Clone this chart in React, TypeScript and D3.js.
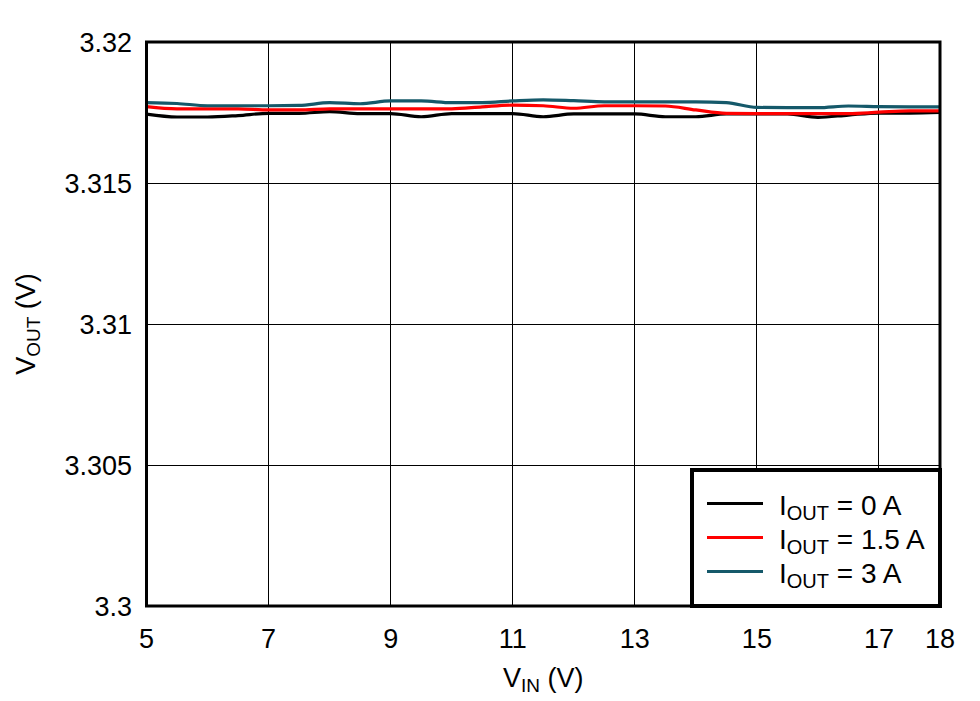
import React from "react";
import * as d3 from "d3";

const vin = [5, 5.5, 6, 6.5, 7, 7.5, 8, 8.5, 9, 9.5, 10, 10.5, 11, 11.5, 12, 12.5, 13, 13.5, 14, 14.5, 15, 15.5, 16, 16.5, 17, 17.5, 18];
const iout0 = [3.31744, 3.31734, 3.31734, 3.31739, 3.31747, 3.31747, 3.31753, 3.31746, 3.31746, 3.31735, 3.31746, 3.31746, 3.31746, 3.31735, 3.31745, 3.31745, 3.31745, 3.31735, 3.31735, 3.31745, 3.31745, 3.31745, 3.31733, 3.31741, 3.31748, 3.31748, 3.3175];
const iout15 = [3.31771, 3.31763, 3.31763, 3.31763, 3.31759, 3.31759, 3.31763, 3.31763, 3.31763, 3.31763, 3.31763, 3.3177, 3.31776, 3.31774, 3.31765, 3.31774, 3.31774, 3.31773, 3.31759, 3.31747, 3.31746, 3.31746, 3.31746, 3.31746, 3.31751, 3.31756, 3.31756];
const iout3 = [3.31785, 3.31782, 3.31774, 3.31774, 3.31774, 3.31775, 3.31785, 3.31781, 3.31791, 3.31791, 3.31785, 3.31785, 3.31791, 3.31795, 3.31792, 3.31788, 3.31788, 3.31788, 3.31788, 3.31785, 3.31768, 3.31767, 3.31767, 3.31773, 3.31771, 3.3177, 3.3177];

const xTicks = [5, 7, 9, 11, 13, 15, 17, 18];
const yTicks = [3.3, 3.305, 3.31, 3.315, 3.32];
const yTickLabels = ["3.3", "3.305", "3.31", "3.315", "3.32"];
const seriesLabels = ["= 0 A", "= 1.5 A", "= 3 A"];
const seriesColors = ["#000000", "#ff0000", "#15596a"];

const W = 980;
const H = 701;
const L = 146.5;
const R = 940;
const T = 42;
const B = 606;
const FONT = "'Liberation Sans', Arial, sans-serif";

export default function App() {
  const x = d3.scaleLinear().domain([5, 18]).range([L, R]);
  const y = d3.scaleLinear().domain([3.3, 3.32]).range([B, T]);
  const series = [iout0, iout15, iout3];
  const line = d3
    .line<number>()
    .x((_, i) => x(vin[i]))
    .y((d) => y(d))
    .curve(d3.curveMonotoneX);

  const legX = 692;
  const legY = 470;
  const legRows = [503.5, 537.5, 571.5];

  return (
    <svg
      width={W}
      height={H}
      style={{ position: "absolute", left: 0, top: 0, background: "#fff" }}
      fontFamily={FONT}
    >
      <rect x={0} y={0} width={W} height={H} fill="#fff" />
      {xTicks.slice(1, -1).map((t) => (
        <line key={"gx" + t} x1={x(t)} x2={x(t)} y1={T} y2={B} stroke="#000" strokeWidth={1} shapeRendering="crispEdges" />
      ))}
      {yTicks.slice(1, -1).map((t) => (
        <line key={"gy" + t} x1={L} x2={R} y1={y(t)} y2={y(t)} stroke="#000" strokeWidth={1} shapeRendering="crispEdges" />
      ))}
      {series.map((s, i) => (
        <path key={"s" + i} d={line(s) || ""} fill="none" stroke={seriesColors[i]} strokeWidth={3.2} />
      ))}
      <rect x={L} y={T} width={R - L} height={B - T} fill="none" stroke="#000" strokeWidth={3} />
      {xTicks.map((t) => (
        <text key={"xt" + t} x={x(t)} y={648} fontSize={27} textAnchor="middle" fill="#000">
          {t}
        </text>
      ))}
      {yTicks.map((t, i) => (
        <text key={"yt" + t} x={132} y={y(t) + 10} fontSize={27} textAnchor="end" fill="#000">
          {yTickLabels[i]}
        </text>
      ))}
      <text x={(L + R) / 2} y={687} fontSize={27} textAnchor="middle" fill="#000">
        V<tspan fontSize={19} dy={5}>IN</tspan>
        <tspan dy={-5}> (V)</tspan>
      </text>
      <text
        transform={`translate(35, ${(T + B) / 2}) rotate(-90)`}
        fontSize={27}
        textAnchor="middle"
        fill="#000"
      >
        V<tspan fontSize={19} dy={5}>OUT</tspan>
        <tspan dy={-5}> (V)</tspan>
      </text>
      <rect x={legX} y={legY} width={R - legX} height={B - legY} fill="#fff" stroke="#000" strokeWidth={4} />
      {seriesLabels.map((lab, i) => (
        <g key={"lg" + i}>
          <line x1={707} x2={763} y1={legRows[i]} y2={legRows[i]} stroke={seriesColors[i]} strokeWidth={3.2} />
          <text x={779} y={legRows[i] + 11} fontSize={28} fill="#000">
            I<tspan fontSize={20} dy={5}>OUT</tspan>
            <tspan dy={-5}> {lab}</tspan>
          </text>
        </g>
      ))}
    </svg>
  );
}
